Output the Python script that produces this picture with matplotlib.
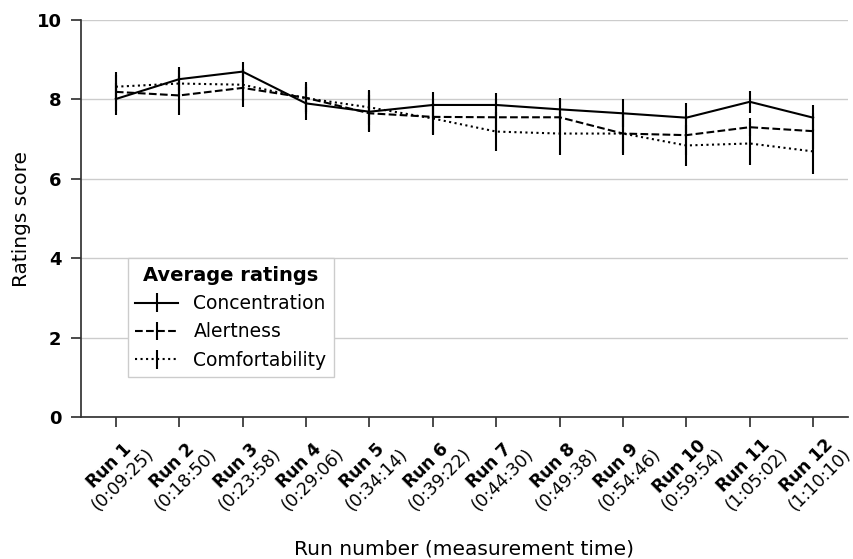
import numpy as np
import matplotlib
matplotlib.use("Agg")
import matplotlib.pyplot as plt

runs = ["Run 1", "Run 2", "Run 3", "Run 4", "Run 5", "Run 6",
        "Run 7", "Run 8", "Run 9", "Run 10", "Run 11", "Run 12"]
times = ["0:09:25", "0:18:50", "0:23:58", "0:29:06", "0:34:14", "0:39:22",
         "0:44:30", "0:49:38", "0:54:46", "0:59:54", "1:05:02", "1:10:10"]

concentration = [8.01, 8.51, 8.70, 7.90, 7.69, 7.86, 7.86, 7.75, 7.65, 7.54, 7.94, 7.54]
concentration_err = [0.41, 0.30, 0.25, 0.41, 0.51, 0.33, 0.29, 0.28, 0.35, 0.38, 0.27, 0.33]
alertness = [8.19, 8.10, 8.29, 8.04, 7.65, 7.56, 7.55, 7.55, 7.14, 7.10, 7.30, 7.20]
alertness_err = [0.49, 0.50, 0.48, 0.41, 0.45, 0.46, 0.45, 0.45, 0.53, 0.50, 0.22, 0.45]
comfort = [8.32, 8.40, 8.37, 8.03, 7.80, 7.52, 7.19, 7.14, 7.14, 6.84, 6.89, 6.69]
comfort_err = [0.30, 0.35, 0.40, 0.35, 0.44, 0.40, 0.49, 0.55, 0.50, 0.52, 0.54, 0.56]

x = np.arange(1, len(runs) + 1)
labels = [r"$\bf{%s}$" % r.replace(" ", r"\ ") + "\n(" + t + ")" for r, t in zip(runs, times)]

fig = plt.figure(figsize=(8.54, 5.59), dpi=100)
ax = fig.add_axes([0.0948, 0.254, 0.8982, 0.7102])

series = [("Concentration", concentration, concentration_err, "-"),
          ("Alertness", alertness, alertness_err, "--"),
          ("Comfortability", comfort, comfort_err, ":")]
for name, y, e, ls in series:
    ax.errorbar(x, y, yerr=e, color="black", linestyle=ls, linewidth=1.5,
                elinewidth=1.5, capsize=0, label=name)

ax.set_xlim(0.45, 12.55)
ax.set_ylim(0, 10)
ax.set_yticks([0, 2, 4, 6, 8, 10])
ax.set_yticklabels(["0", "2", "4", "6", "8", "10"], fontsize=13, fontweight="bold")
ax.set_xticks(x)
ax.set_xticklabels(labels, rotation=45, fontsize=12.5, linespacing=1.1)
ax.yaxis.grid(True, color="#cccccc", linewidth=1)
ax.set_axisbelow(True)
for s in ["top", "right"]:
    ax.spines[s].set_visible(False)
for s in ["left", "bottom"]:
    ax.spines[s].set_color("#333333")
    ax.spines[s].set_linewidth(1.25)
ax.tick_params(direction="out", length=7, width=1.25, color="#333333")
ax.tick_params(axis="y", pad=7)

ax.set_ylabel("Ratings score", fontsize=14.5)
ax.set_xlabel("Run number (measurement time)", fontsize=14.5, labelpad=18)

leg = ax.legend(title="Average ratings", loc="upper left", bbox_to_anchor=(0.061, 0.40),
                fontsize=13.5, title_fontproperties={"weight": "bold", "size": 14},
                fancybox=False, edgecolor="#cccccc", framealpha=1, handlelength=2.3,
                borderaxespad=0, labelspacing=0.5)

fig.savefig("out.png", dpi=100)
